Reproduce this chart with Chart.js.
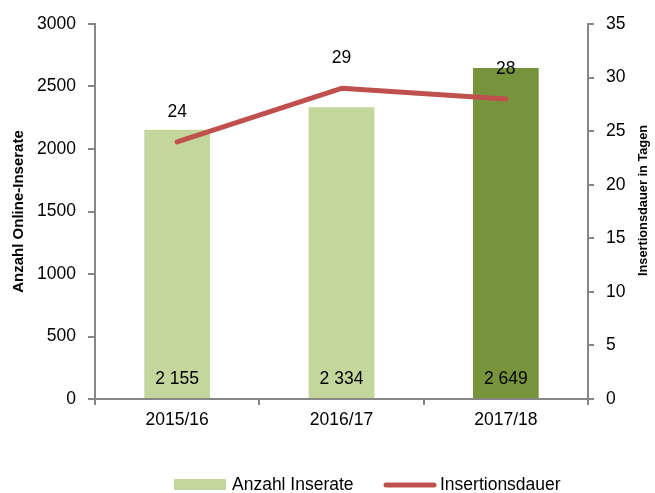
<!DOCTYPE html>
<html>
<head>
<meta charset="utf-8">
<script src="https://cdn.jsdelivr.net/npm/chart.js@4.4.1/dist/chart.umd.min.js"></script>
<style>
  html, body { margin: 0; padding: 0; background: #fff; }
  #wrap { width: 655px; height: 493px; position: relative; }
</style>
</head>
<body>
<div id="wrap"><canvas id="c" width="655" height="493"></canvas></div>
<script>
const categories = ['2015/16', '2016/17', '2017/18'];
const inserate = [2155, 2334, 2649];
const dauer = [24, 29, 28];
const barLabel = 'Anzahl Inserate';
const lineLabel = 'Insertionsdauer';
const leftTitle = 'Anzahl Online-Inserate';
const rightTitle = 'Insertionsdauer in Tagen';
const leftTicks = [0, 500, 1000, 1500, 2000, 2500, 3000];
const rightTicks = [0, 5, 10, 15, 20, 25, 30, 35];

const FONT = "'Liberation Sans', Arial, sans-serif";
const FS = 17.5;
const AXIS = '#868686';
const LIGHT = '#C3D69B';
const DARK = '#77933C';
const RED = '#C0504D';

Chart.defaults.font.family = FONT;
Chart.defaults.font.size = FS;
Chart.defaults.color = '#000';

function fmt(n) {
  return String(n).replace(/\B(?=(\d{3})+(?!\d))/g, ' ');
}

const labelsPlugin = {
  id: 'customLabels',
  afterDatasetsDraw(chart) {
    const ctx = chart.ctx;
    const yL = chart.scales.y;
    const lineMeta = chart.getDatasetMeta(0);
    const barMeta = chart.getDatasetMeta(1);
    ctx.save();
    ctx.fillStyle = '#000';
    ctx.font = FS + 'px ' + FONT;
    ctx.textAlign = 'center';
    ctx.textBaseline = 'middle';
    barMeta.data.forEach((el, i) => {
      ctx.fillText(fmt(inserate[i]), el.x, yL.getPixelForValue(0) - 20);
    });
    lineMeta.data.forEach((el, i) => {
      ctx.fillText(String(dauer[i]), el.x, el.y - 30);
    });
    ctx.restore();
  },
  afterDraw(chart) {
    const ctx = chart.ctx;
    const area = chart.chartArea;
    ctx.save();
    ctx.fillStyle = '#000';
    ctx.textAlign = 'center';
    ctx.textBaseline = 'middle';
    ctx.save();
    ctx.font = 'bold 15px ' + FONT;
    ctx.translate(19, (area.top + area.bottom) / 2);
    ctx.rotate(-Math.PI / 2);
    ctx.fillText(leftTitle, 0, 0);
    ctx.restore();
    ctx.save();
    ctx.font = 'bold 12.8px ' + FONT;
    ctx.translate(643, (area.top + area.bottom) / 2 - 11);
    ctx.rotate(-Math.PI / 2);
    ctx.fillText(rightTitle, 0, 0);
    ctx.restore();
    // legend
    const ly = 485;
    ctx.fillStyle = LIGHT;
    ctx.fillRect(174, ly - 6, 52, 11);
    ctx.fillStyle = '#000';
    ctx.font = FS + 'px ' + FONT;
    ctx.textAlign = 'left';
    ctx.fillText(barLabel, 232, ly);
    ctx.strokeStyle = RED;
    ctx.lineWidth = 5;
    ctx.lineCap = 'round';
    ctx.beginPath();
    ctx.moveTo(386, ly);
    ctx.lineTo(434, ly);
    ctx.stroke();
    ctx.fillText(lineLabel, 440, ly);
    ctx.restore();
  }
};

new Chart(document.getElementById('c'), {
  data: {
    labels: categories,
    datasets: [
      {
        type: 'line',
        label: lineLabel,
        data: dauer,
        yAxisID: 'y2',
        borderColor: RED,
        backgroundColor: RED,
        borderWidth: 5,
        borderCapStyle: 'round',
        borderJoinStyle: 'round',
        pointRadius: 0,
        tension: 0,
        order: 0
      },
      {
        type: 'bar',
        label: barLabel,
        data: inserate,
        yAxisID: 'y',
        backgroundColor: [LIGHT, LIGHT, DARK],
        borderWidth: 0,
        barPercentage: 0.4,
        categoryPercentage: 1,
        order: 1
      }
    ]
  },
  options: {
    responsive: false,
    animation: false,
    devicePixelRatio: 1,
    layout: { padding: { top: 24, bottom: 54, left: 0, right: 0 } },
    plugins: {
      legend: { display: false },
      tooltip: { enabled: false }
    },
    scales: {
      x: {
        offset: true,
        grid: { offset: true, drawOnChartArea: false, color: AXIS, lineWidth: 2, tickLength: 6 },
        border: { color: AXIS, width: 2 },
        ticks: { padding: 5, color: '#000', font: { size: FS } },
        afterFit(s) { s.height = 40; }
      },
      y: {
        position: 'left',
        min: 0, max: 3000,
        afterBuildTicks(s) { s.ticks = leftTicks.map(v => ({ value: v })); },
        grid: { drawOnChartArea: false, color: AXIS, lineWidth: 2, tickLength: 7 },
        border: { color: AXIS, width: 2 },
        ticks: { padding: 12, color: '#000', font: { size: FS }, callback: v => String(v) },
        afterFit(s) { s.width = 95; }
      },
      y2: {
        position: 'right',
        min: 0, max: 35,
        afterBuildTicks(s) { s.ticks = rightTicks.map(v => ({ value: v })); },
        grid: { drawOnChartArea: false, color: AXIS, lineWidth: 2, tickLength: 6 },
        border: { color: AXIS, width: 2 },
        ticks: { padding: 12, color: '#000', font: { size: FS }, callback: v => String(v) },
        afterFit(s) { s.width = 67; }
      }
    }
  },
  plugins: [labelsPlugin]
});
</script>
</body>
</html>
